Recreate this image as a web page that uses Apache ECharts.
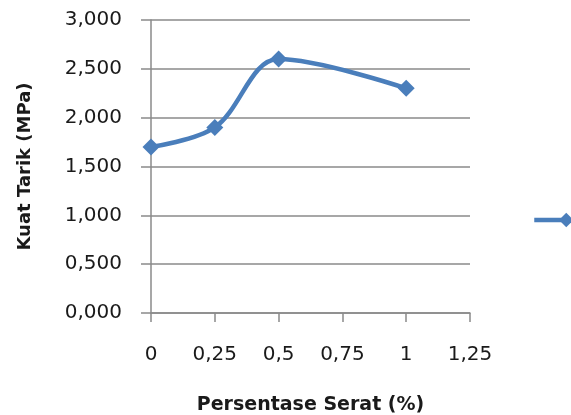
<!DOCTYPE html>
<html>
<head>
<meta charset="utf-8">
<script src="https://cdn.jsdelivr.net/npm/echarts@6/dist/echarts.min.js"></script>
<style>
  html, body { margin: 0; padding: 0; background: #fff; }
  #chart { width: 571px; height: 415px; }
</style>
</head>
<body>
<div id="chart"></div>
<script>
// Fibre percentage (%) and tensile strength (MPa)
const fibrePercent = [0, 0.25, 0.5, 1];
const tensileStrength = [1.7, 1.9, 2.6, 2.3];
const seriesName = 'Kuat Tarik';

// Axis tick labels (comma decimal separator)
const xTickLabels = ['0', '0,25', '0,5', '0,75', '1', '1,25'];
const yTickLabels = ['0,000', '0,500', '1,000', '1,500', '2,000', '2,500', '3,000'];

const lineColor = '#4A7EBB';
const gridColor = '#8A8A8A';
const textColor = '#1a1a1a';
const fontFamily = '"DejaVu Sans", sans-serif';

const chart = echarts.init(document.getElementById('chart'));
chart.setOption({
  animation: false,
  grid: {
    left: 151, right: 101, top: 20, bottom: 102,
    containLabel: false,
    outerBoundsMode: 'none'
  },
  legend: {
    left: 527,
    top: 206,
    itemWidth: 64,
    itemHeight: 18,
    lineStyle: { width: 4.5 },
    textStyle: { color: textColor, fontFamily: fontFamily, fontSize: 18 },
    data: [seriesName]
  },
  xAxis: {
    type: 'value',
    min: 0,
    max: 1.25,
    interval: 0.25,
    name: 'Persentase Serat (%)',
    nameLocation: 'middle',
    nameGap: 83,
    nameTextStyle: { color: textColor, fontFamily: fontFamily, fontSize: 19, fontWeight: 'bold' },
    axisLine: { show: true, lineStyle: { color: gridColor, width: 1.5 } },
    axisTick: { show: true, inside: false, length: 9, lineStyle: { color: gridColor, width: 1.5 } },
    splitLine: { show: false },
    axisLabel: {
      margin: 32,
      color: textColor,
      fontFamily: fontFamily,
      fontSize: 20,
      formatter: (v) => xTickLabels[Math.round(v / 0.25)]
    }
  },
  yAxis: {
    type: 'value',
    min: 0,
    max: 3,
    interval: 0.5,
    name: 'Kuat Tarik (MPa)',
    nameLocation: 'middle',
    nameGap: 117,
    nameTextStyle: { color: textColor, fontFamily: fontFamily, fontSize: 18, fontWeight: 'bold' },
    axisLine: { show: true, lineStyle: { color: gridColor, width: 1.5 } },
    axisTick: { show: true, inside: false, length: 10, lineStyle: { color: gridColor, width: 1.5 } },
    splitLine: { show: true, lineStyle: { color: gridColor, width: 1.5 } },
    axisLabel: {
      margin: 29,
      color: textColor,
      fontFamily: fontFamily,
      fontSize: 20,
      formatter: (v) => yTickLabels[Math.round(v / 0.5)]
    }
  },
  series: [{
    name: seriesName,
    type: 'line',
    data: fibrePercent.map((x, i) => [x, tensileStrength[i]]),
    smooth: 0.35,
    symbol: 'diamond',
    symbolSize: 17,
    lineStyle: { color: lineColor, width: 4.5 },
    itemStyle: { color: lineColor }
  }]
});
</script>
</body>
</html>
